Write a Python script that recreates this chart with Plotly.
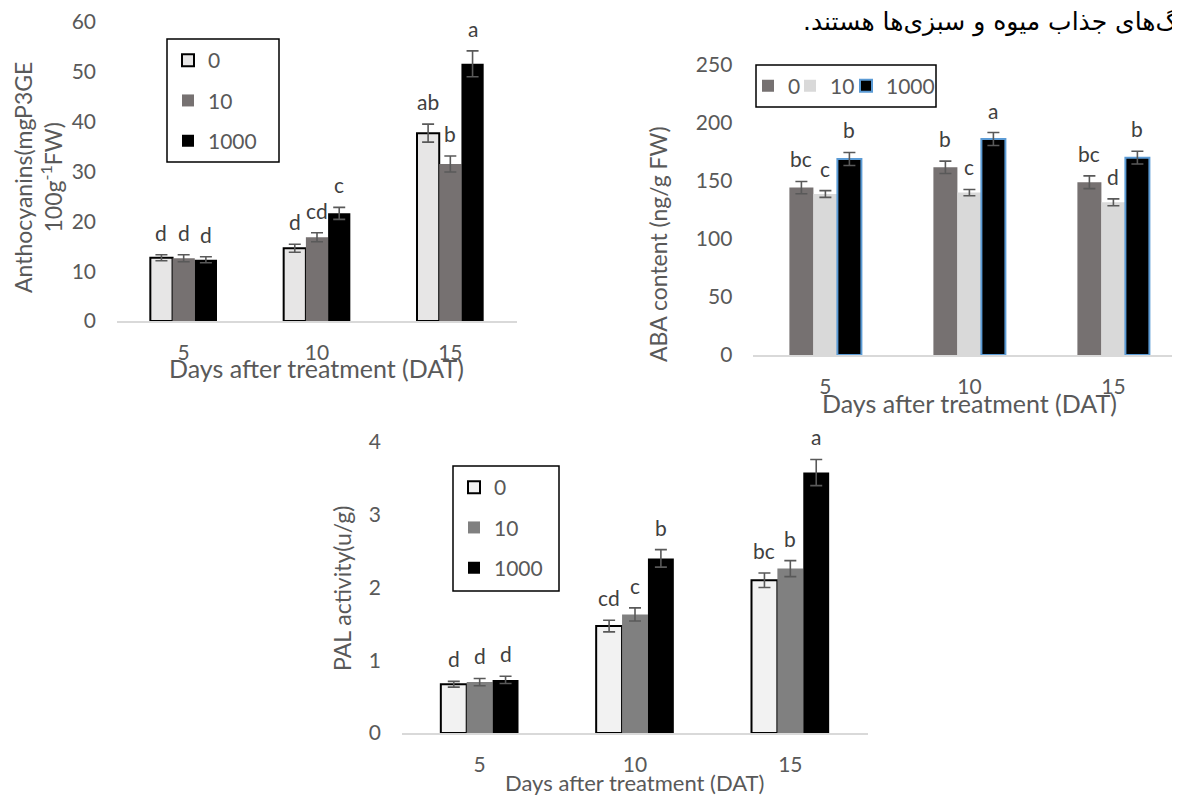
import plotly.graph_objects as go

# window is 1180x795; page body adds an 8px offset, so the paper is 16px smaller
# and every pixel target below is given in window pixels, shifted by OFF
WIN_W, WIN_H = 1180, 795
OFF = 8
PW, PH = WIN_W - OFF, WIN_H - OFF

days = ["5", "10", "15"]
series = ["0", "10", "1000"]

# Chart 1: Anthocyanins
antho_vals = {
    "0": [12.7, 14.6, 37.7],
    "10": [12.6, 16.8, 31.5],
    "1000": [12.3, 21.6, 51.6],
}
antho_err = {
    "0": [0.6, 0.8, 1.8],
    "10": [0.7, 0.9, 1.6],
    "1000": [0.6, 1.2, 2.6],
}
antho_letters = {
    "0": ["d", "d", "ab"],
    "10": ["d", "cd", "b"],
    "1000": ["d", "c", "a"],
}

# Chart 2: ABA content
aba_vals = {
    "0": [144.3, 161.8, 148.9],
    "10": [138.8, 140.0, 131.6],
    "1000": [169.0, 186.2, 170.1],
}
aba_err = {
    "0": [5.3, 5.3, 5.5],
    "10": [2.9, 2.7, 3.0],
    "1000": [5.6, 5.6, 5.5],
}
aba_letters = {
    "0": ["bc", "b", "bc"],
    "10": ["c", "c", "d"],
    "1000": ["b", "a", "b"],
}

# Chart 3: PAL activity
pal_vals = {
    "0": [0.67, 1.47, 2.10],
    "10": [0.70, 1.63, 2.26],
    "1000": [0.73, 2.40, 3.58],
}
pal_err = {
    "0": [0.04, 0.08, 0.10],
    "10": [0.05, 0.09, 0.11],
    "1000": [0.05, 0.12, 0.18],
}
pal_letters = {
    "0": ["d", "cd", "bc"],
    "10": ["d", "c", "b"],
    "1000": ["d", "b", "a"],
}

FONT = "Lato"
TICK_COL = "#595959"
LET_COL = "#404040"
ERR_COL = "#595959"
FS = 21

styles1 = {
    "0": dict(color="#e7e6e6", line=dict(color="#000000", width=2)),
    "10": dict(color="#767171", line=dict(width=0)),
    "1000": dict(color="#000000", line=dict(width=0)),
}
styles2 = {
    "0": dict(color="#767171", line=dict(width=0)),
    "10": dict(color="#d9d9d9", line=dict(width=0)),
    "1000": dict(color="#000000", line=dict(color="#5b9bd5", width=2)),
}
styles3 = {
    "0": dict(color="#f2f2f2", line=dict(color="#000000", width=2)),
    "10": dict(color="#808080", line=dict(width=0)),
    "1000": dict(color="#000000", line=dict(width=0)),
}


def px_x(p):
    return (p - OFF) / PW


def px_y(p):
    return 1 - (p - OFF) / PH


xpos = list(range(len(days)))
fig = go.Figure()
annotations = []

charts = [
    ("x", "y", ["legend", "legend", "legend"], antho_vals, antho_err, antho_letters, styles1),
    ("x2", "y2", ["legend2", "legend4", "legend5"], aba_vals, aba_err, aba_letters, styles2),
    ("x3", "y3", ["legend3", "legend3", "legend3"], pal_vals, pal_err, pal_letters, styles3),
]

bw = (1 - 0.5) / 3
for xa, ya, lgs, vals, errs, lets, sty in charts:
    for j, s in enumerate(series):
        fig.add_trace(go.Bar(
            x=xpos, y=vals[s], name=s, xaxis=xa, yaxis=ya, legend=lgs[j],
            legendgroup=xa + s,
            marker=sty[s],
            error_y=dict(type="data", array=errs[s], visible=True,
                         color=ERR_COL, thickness=1.6, width=6),
            showlegend=True,
        ))
        for i in xpos:
            annotations.append(dict(
                x=i + (j - 1) * bw, y=vals[s][i] + errs[s][i],
                xref=xa, yref=ya, text=lets[s][i], showarrow=False,
                xanchor="center", yanchor="bottom", yshift=8,
                font=dict(family=FONT, size=FS, color=LET_COL),
            ))

axis_common = dict(showgrid=False, zeroline=False, ticks="", automargin=False,
                   tickfont=dict(family=FONT, size=FS, color=TICK_COL))
xaxis_common = dict(tickvals=xpos, ticktext=days, showline=True,
                    linecolor="#d9d9d9", linewidth=1.5, ticklabelstandoff=12,
                    **axis_common)
yaxis_common = dict(showline=False, ticklabelstandoff=20, **axis_common)

leg_font = dict(family=FONT, size=FS, color=TICK_COL)
vleg = dict(xanchor="left", yanchor="top", borderwidth=0,
            bgcolor="rgba(0,0,0,0)", font=leg_font,
            traceorder="grouped", tracegroupgap=10)
hleg = dict(xanchor="left", yanchor="middle", borderwidth=0, orientation="h",
            bgcolor="rgba(0,0,0,0)", font=leg_font)

layout = dict(
    width=PW, height=PH,
    margin=dict(l=0, r=0, t=0, b=0, autoexpand=False),
    paper_bgcolor="white", plot_bgcolor="rgba(0,0,0,0)",
    barmode="group", bargap=0.5, bargroupgap=0,
    xaxis=dict(domain=[px_x(117), px_x(517)], anchor="y", range=[-0.5, 2.5], **xaxis_common),
    yaxis=dict(domain=[px_y(321), px_y(22)], anchor="x", range=[0, 60], dtick=10, **yaxis_common),
    xaxis2=dict(domain=[px_x(753.4), 1.0], anchor="y2", range=[-0.5, 2.4625], **xaxis_common),
    yaxis2=dict(domain=[px_y(355), px_y(65)], anchor="x2", range=[0, 250], dtick=50, **yaxis_common),
    xaxis3=dict(domain=[px_x(402), px_x(868)], anchor="y3", range=[-0.5, 2.5], **xaxis_common),
    yaxis3=dict(domain=[px_y(733), px_y(442)], anchor="x3", range=[0, 4], dtick=1, **yaxis_common),
    legend=dict(x=px_x(168), y=px_y(40), **vleg),
    legend3=dict(x=px_x(454), y=px_y(467), **vleg),
    legend2=dict(x=px_x(748), y=px_y(86), **hleg),
    legend4=dict(x=px_x(790), y=px_y(86), **hleg),
    legend5=dict(x=px_x(846), y=px_y(86), **hleg),
)

# legend frames
box_line = dict(color="#000000", width=1.5)
shapes = []
for x0, y0, x1, y1 in [(167, 39, 279, 162), (756, 65, 936, 107), (453, 466, 559, 591)]:
    shapes.append(dict(type="rect", xref="paper", yref="paper",
                       x0=px_x(x0), x1=px_x(x1), y0=px_y(y1), y1=px_y(y0),
                       line=box_line, fillcolor="white", layer="below"))
layout["shapes"] = shapes

title_font = dict(family=FONT, size=25, color=TICK_COL)
ytitle_font = dict(family=FONT, size=23, color=TICK_COL)


def paper_text(text, x, y, font, angle=0, xanchor="center"):
    return dict(text=text, x=px_x(x), y=px_y(y), xref="paper", yref="paper",
                xanchor=xanchor, yanchor="middle", showarrow=False,
                textangle=angle, font=font)


annotations += [
    paper_text("Days after treatment (DAT)", 316, 368, title_font),
    paper_text("Days after treatment (DAT)", 969, 403, title_font),
    paper_text("Days after treatment (DAT)", 634, 782,
               dict(family=FONT, size=22, color=TICK_COL)),
    paper_text("Anthocyanins(mgP3GE<br>100g<sup>-1</sup>FW)", 38, 178, ytitle_font, -90),
    paper_text("ABA content (ng/g FW)", 658, 244, ytitle_font, -90),
    paper_text("PAL activity(u/g)", 342, 589, ytitle_font, -90),
    paper_text("\u200fگ‌های جذاب میوه و سبزی‌ها هستند.\u200f", 1180, 22,
               dict(family="DejaVu Sans", size=25, color="#000000"), 0, "right"),
]
layout["annotations"] = annotations

fig.update_layout(**layout)
fig.write_html("out.html")
